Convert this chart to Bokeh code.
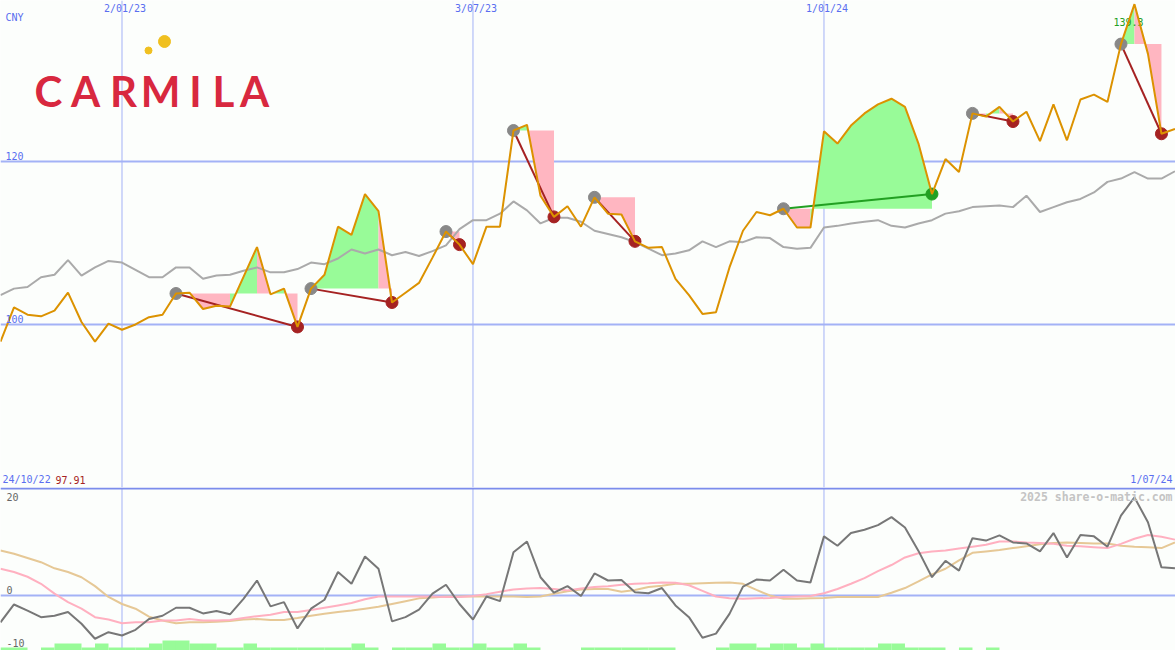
from bokeh.plotting import figure
from bokeh.layouts import column
from bokeh.models import Range1d, Span
from bokeh.core.properties import value
from bokeh.embed import file_html
from bokeh.resources import INLINE

# ---------------- data (weekly closes, index 0 = first week) ----------------
start_label = "24/10/22"
first_close = "97.91"
end_label = "1/07/24"
max_label = "139.3"
currency = "CNY"
grid_labels = ["2/01/23", "3/07/23", "1/01/24"]
grid_weeks = [9, 35, 61]
price_ticks = [120, 100]
osc_ticks = [20, 0, -10]

price = [97.9, 102.1, 101.2, 101.0, 101.7, 103.9, 100.3, 97.9, 100.1, 99.35,
         100.0, 100.9, 101.2, 103.8, 103.9, 101.9, 102.3, 102.2, 105.85, 109.5,
         103.7, 104.4, 99.7, 104.4, 106.1, 112.0, 111.0, 116.0, 113.9, 102.7,
         103.9, 105.1, 108.2, 111.4, 109.8, 107.4, 112.0, 112.0, 123.8, 124.5,
         115.8, 113.2, 114.5, 112.0, 115.6, 113.6, 113.5, 110.2, 109.4, 109.5,
         105.6, 103.6, 101.3, 101.5, 107.0, 111.5, 113.8, 113.4, 114.2, 111.9,
         111.9, 123.7, 122.2, 124.4, 125.9, 127.0, 127.7, 126.7, 122.2, 116.0,
         120.3, 118.7, 125.9, 125.5, 126.7, 124.9, 126.1, 122.5, 127.0, 122.6,
         127.6, 128.2, 127.3, 134.4, 139.3, 133.2, 123.4, 124.0]

average = [103.6, 104.4, 104.6, 105.8, 106.1, 107.9, 106.0, 107.0, 107.8, 107.6,
           106.7, 105.8, 105.8, 107.0, 107.0, 105.6, 106.0, 106.1, 106.6, 107.0,
           106.4, 106.4, 106.8, 107.6, 107.4, 108.1, 109.2, 108.7, 109.2, 108.5,
           108.9, 108.4, 109.0, 109.7, 111.7, 112.8, 112.8, 113.6, 115.1, 114.0,
           112.4, 113.1, 113.1, 112.6, 111.5, 111.1, 110.7, 110.1, 109.3, 108.5,
           108.7, 109.1, 110.2, 109.5, 110.2, 110.1, 110.7, 110.6, 109.5, 109.3,
           109.4, 111.9, 112.1, 112.4, 112.6, 112.8, 112.1, 111.9, 112.4, 112.8,
           113.6, 113.9, 114.4, 114.5, 114.6, 114.4, 115.8, 113.8, 114.4, 115.0,
           115.4, 116.2, 117.5, 117.9, 118.7, 117.9, 117.9, 118.8]

oscillator = [-5.7, -1.9, -3.2, -4.6, -4.3, -3.5, -6.0, -9.2, -7.8, -8.5,
              -7.3, -5.0, -4.3, -2.6, -2.6, -3.8, -3.3, -4.0, -0.7, 3.2,
              -2.3, -1.4, -7.0, -2.8, -0.9, 5.0, 2.5, 8.3, 5.7, -5.5,
              -4.6, -3.0, 0.4, 2.3, -1.8, -5.1, -0.2, -1.2, 9.2, 11.5,
              3.9, 0.6, 2.0, -0.1, 4.7, 3.2, 3.3, 0.7, 0.5, 1.6,
              -2.1, -4.6, -9.0, -8.1, -3.9, 1.9, 3.4, 3.2, 5.5, 3.2,
              2.8, 12.6, 10.6, 13.3, 14.0, 15.0, 16.7, 14.5, 9.5, 3.9,
              7.4, 5.3, 12.2, 11.7, 12.8, 11.3, 11.1, 9.4, 13.3, 8.1,
              12.9, 12.6, 10.4, 17.0, 20.9, 15.6, 6.0, 5.8]

osc_fast = [5.7, 5.0, 4.0, 2.5, 0.4, -1.4, -2.8, -4.6, -5.1, -5.9,
            -5.7, -5.7, -5.3, -5.3, -5.0, -5.3, -5.3, -5.2, -4.8, -4.4,
            -4.1, -3.5, -3.5, -3.1, -2.6, -2.1, -1.6, -0.8, -0.2, -0.2,
            -0.2, -0.2, -0.2, -0.3, -0.3, -0.1, 0.3, 0.8, 1.3, 1.5,
            1.6, 1.4, 1.1, 1.5, 1.8, 2.0, 2.3, 2.5, 2.6, 2.8,
            2.7, 2.2, 1.0, -0.2, -0.6, -0.7, -0.6, -0.5, -0.3, -0.2,
            -0.1, 0.5, 1.4, 2.5, 3.7, 5.2, 6.5, 8.1, 9.0, 9.4,
            9.6, 10.0, 10.4, 10.8, 11.5, 11.5, 11.3, 11.2, 11.0, 10.6,
            10.5, 10.3, 10.1, 11.0, 12.1, 12.9, 12.5, 11.9]

osc_slow = [9.6, 8.9, 8.0, 7.1, 5.8, 5.0, 3.9, 2.0, -0.3, -1.8,
            -2.8, -4.5, -5.3, -5.9, -5.7, -5.7, -5.6, -5.4, -5.1, -5.0,
            -5.2, -5.2, -4.8, -4.3, -3.9, -3.5, -3.2, -2.8, -2.4, -1.8,
            -1.2, -0.6, -0.4, -0.2, -0.2, -0.2, -0.2, -0.2, -0.2, -0.3,
            -0.2, 0.4, 0.9, 1.3, 1.4, 1.4, 0.8, 1.2, 1.8, 2.1,
            2.5, 2.5, 2.6, 2.7, 2.8, 2.5, 1.2, 0.0, -0.7, -0.7,
            -0.6, -0.5, -0.3, -0.3, -0.3, -0.3, 0.6, 1.6, 3.0, 4.5,
            5.7, 7.5, 9.1, 9.4, 9.7, 10.1, 10.5, 10.9, 11.2, 11.3,
            11.2, 11.1, 11.1, 10.6, 10.4, 10.3, 10.1, 11.3]

volume = [3, 3, 0, 3, 7, 7, 3, 7, 3, 3,
          3, 7, 10, 10, 7, 7, 3, 3, 7, 3,
          3, 3, 3, 3, 3, 3, 7, 3, 0, 3,
          3, 3, 7, 3, 3, 7, 3, 3, 7, 3,
          0, 0, 0, 3, 3, 3, 3, 3, 3, 3,
          0, 0, 0, 3, 7, 7, 3, 7, 7, 3,
          7, 3, 3, 3, 3, 7, 7, 3, 3, 3,
          0, 3, 0, 3, 0, 0, 0, 0, 0, 0,
          0, 0, 0, 0, 0, 0, 0, 0]

buy_week = [13, 23, 33, 38, 44, 58, 72, 83]
sell_week = [22, 29, 34, 41, 47, 69, 75, 86]

# ---------------- layout / style ----------------
W = 1175
H_TOP = 487
H_BOT = 163
REF_W, REF_SPLIT, REF_H = 1175.0, 487.0, 650.0
X0, X1 = 0.0, 87.04
TOP_LO, TOP_HI = 80.0, 139.75
BOT_LO, BOT_HI = -11.7, 23.0

BG = "#fcfefc"
BLUE_TXT = "#5a6ef0"
GRID = "#a3b2f6"
SEP = "#7b8cec"
ORANGE = "#dc9200"
AVG_GREY = "#aaaaaa"
GAIN_FILL = "#98fb98"
LOSS_FILL = "#ffb6c1"
LOSS_LINE = "#a52222"
GAIN_LINE = "#22a022"
DOT_GREY = "#888888"
OSC_GREY = "#777777"
OSC_PINK = "#ffb0c0"
OSC_TAN = "#e6c896"
LOGO_RED = "#d8283f"
LOGO_YEL = "#f0c020"
MONO = value("DejaVu Sans Mono")


def fx(px):
    return X0 + px / REF_W * (X1 - X0)


def fy_top(py):
    return TOP_HI - py / REF_SPLIT * (TOP_HI - TOP_LO)


def fy_bot(py):
    return BOT_HI - (py - REF_SPLIT) / (REF_H - REF_SPLIT) * (BOT_HI - BOT_LO)


def make_fig(h, lo, hi):
    f = figure(width=W, height=h, x_range=Range1d(X0, X1), y_range=Range1d(lo, hi),
               output_backend="svg", toolbar_location=None,
               x_axis_location=None, y_axis_location=None, min_border=0,
               background_fill_color=BG, border_fill_color=BG, outline_line_color=None)
    f.xgrid.visible = False
    f.ygrid.visible = False
    return f


weeks = list(range(len(price)))

# ================= top panel =================
top = make_fig(H_TOP, TOP_LO, TOP_HI)
for t in price_ticks:
    top.add_layout(Span(location=t, dimension="width", line_color=GRID, line_width=2, level="underlay"))
for w in grid_weeks:
    top.add_layout(Span(location=w, dimension="height", line_color=GRID, line_width=1, level="underlay"))

# gain / loss areas for each trade
fill_xs, fill_ys, fill_col = [], [], []
for s, e in zip(buy_week, sell_week):
    lvl = price[s]
    i = s
    while i < e:
        up = price[i + 1] > lvl
        j = i
        while j < e and (price[j + 1] > lvl) == up:
            j += 1
        fill_xs.append([i] + list(range(i, j + 1)) + [j])
        fill_ys.append([lvl] + price[i:j + 1] + [lvl])
        fill_col.append(GAIN_FILL if up else LOSS_FILL)
        i = j
top.patches(fill_xs, fill_ys, fill_color=fill_col, line_color=None)

top.line(weeks, average, line_color=AVG_GREY, line_width=2)

gain = [price[e] > price[s] for s, e in zip(buy_week, sell_week)]
trade_col = [GAIN_LINE if g else LOSS_LINE for g in gain]
top.segment(x0=buy_week, y0=[price[s] for s in buy_week],
            x1=sell_week, y1=[price[e] for e in sell_week],
            line_color=trade_col, line_width=2)
top.scatter(buy_week, [price[s] for s in buy_week], size=12, color=DOT_GREY)
top.scatter(sell_week, [price[e] for e in sell_week], size=12, color=trade_col)

imax = price.index(max(price))
top.text(x=[imax + fx(-6)], y=[fy_top(21)], text=[max_label], text_font=MONO,
         text_font_size="10px", text_color=GAIN_LINE, text_align="center", text_baseline="middle")

top.line(weeks, price, line_color=ORANGE, line_width=2)

# labels
top.text(x=[fx(5)], y=[fy_top(17)], text=[currency], text_font=MONO, text_font_size="10px",
         text_color=BLUE_TXT, text_baseline="middle")
top.text(x=[w + fx(3) for w in grid_weeks], y=[fy_top(8)] * len(grid_weeks), text=grid_labels,
         text_font=MONO, text_font_size="10px", text_color=BLUE_TXT,
         text_align="center", text_baseline="middle")
top.text(x=[fx(5)] * len(price_ticks), y=[t + (TOP_HI - fy_top(5)) for t in price_ticks],
         text=[str(t) for t in price_ticks], text_font=MONO, text_font_size="10px",
         text_color=BLUE_TXT, text_baseline="middle")
top.text(x=[fx(2)], y=[fy_top(479)], text=[start_label], text_font=MONO, text_font_size="10px",
         text_color=BLUE_TXT, text_baseline="middle")
top.text(x=[fx(55)], y=[fy_top(479)], text=[first_close], text_font=MONO, text_font_size="10px",
         text_color=LOSS_LINE, text_baseline="middle")
top.text(x=[fx(1172)], y=[fy_top(479)], text=[end_label], text_font=MONO, text_font_size="10px",
         text_color=BLUE_TXT, text_align="right", text_baseline="middle")

# logo
logo_letters = list("CARMILA")
logo_px = [48, 85, 123, 160, 195, 223, 254]
top.text(x=[fx(p) for p in logo_px], y=[fy_top(90)] * len(logo_px), text=logo_letters,
         text_font=value("Lato"), text_font_style="bold", text_font_size="42px",
         text_color=LOGO_RED, text_align="center", text_baseline="alphabetic")
top.scatter([fx(164), fx(148)], [fy_top(41), fy_top(50)], size=[12, 7], color=LOGO_YEL)

# ================= bottom panel =================
bot = make_fig(H_BOT, BOT_LO, BOT_HI)
bot.extra_y_ranges = {"vol": Range1d(0, REF_H - REF_SPLIT)}
bot.add_layout(Span(location=0, dimension="width", line_color=GRID, line_width=2, level="underlay"))
for w in grid_weeks:
    bot.add_layout(Span(location=w, dimension="height", line_color=GRID, line_width=1, level="underlay"))
bot.add_layout(Span(location=fy_bot(488), dimension="width", line_color=SEP, line_width=2))

bot.quad(left=weeks, right=[w + 1 for w in weeks], bottom=0, top=volume,
         y_range_name="vol", fill_color=GAIN_FILL, line_color=None)
bot.line(weeks, osc_slow, line_color=OSC_TAN, line_width=2)
bot.line(weeks, osc_fast, line_color=OSC_PINK, line_width=2)
bot.line(weeks, oscillator, line_color=OSC_GREY, line_width=2)

osc_label_px = [496, 589, 642]
bot.text(x=[fx(6)] * len(osc_ticks), y=[fy_bot(p) for p in osc_label_px],
         text=[str(t) for t in osc_ticks], text_font=MONO, text_font_size="10px",
         text_color="#666666", text_baseline="middle")
bot.text(x=[fx(1172)], y=[fy_bot(496)], text=["2025 share-o-matic.com"], text_font=MONO,
         text_font_size="11.5px", text_font_style="bold", text_color="#c4c4c4",
         text_align="right", text_baseline="middle")

layout = column(top, bot, spacing=0)
open("out.html", "w").write(file_html(layout, INLINE))
